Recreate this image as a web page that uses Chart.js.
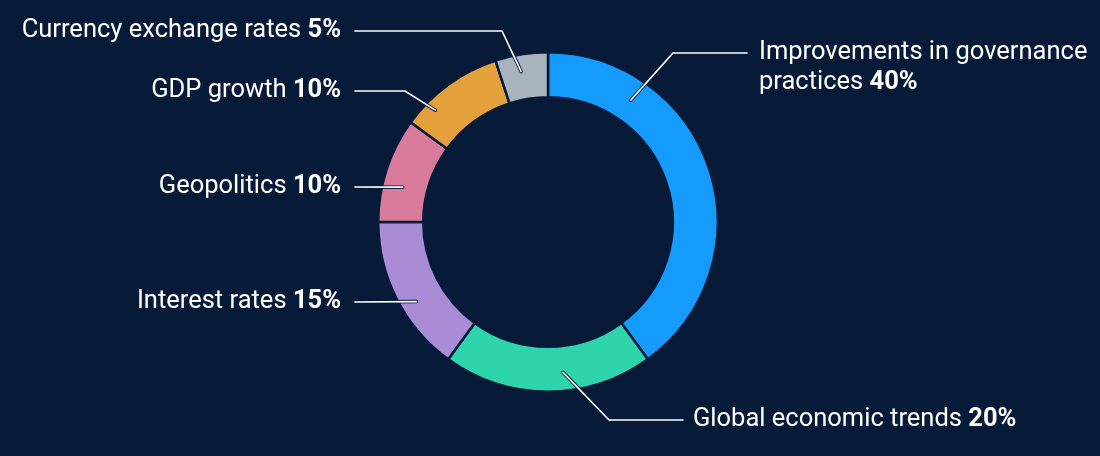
<!DOCTYPE html>
<html>
<head>
<meta charset="utf-8">
<script src="https://cdn.jsdelivr.net/npm/chart.js@4.4.1/dist/chart.umd.min.js"></script>
<style>
  html, body { margin: 0; padding: 0; background: #071a38; }
  #wrap { width: 1100px; height: 456px; position: relative; }
</style>
</head>
<body>
<div id="wrap"><canvas id="factorsChart"></canvas></div>
<script>
// Chart data
const categories = [
    "Improvements in governance practices",
    "Global economic trends",
    "Interest rates",
    "Geopolitics",
    "GDP growth",
    "Currency exchange rates"
];
const shares = [40, 20, 15, 10, 10, 5];
const sliceColors = ["#159bfc", "#2dd4ac", "#aa8bd6", "#d97b9b", "#e4a03b", "#a8b3bf"];

const BG = "#071a38";

// Callout layout per slice: where the leader starts on the ring (degrees clockwise
// from top, radius as share of outer radius), the bend, and where the text sits
// (offsets from the doughnut centre, in px).
const callouts = [
    { angle: 34.2, r: 0.868, elbowX: 125, lineY: -169, endX: 199, textX: 211, align: "left",
      lines: ["Improvements in governance", "practices"] },
    { angle: 174.3, r: 0.89, elbowX: 61, lineY: 198, endX: 135, textX: 145, align: "left",
      lines: ["Global economic trends"] },
    { angle: 238.8, r: 0.905, elbowX: null, lineY: 80, endX: -193, textX: -207, align: "right",
      lines: ["Interest rates"] },
    { angle: 283.5, r: 0.88, elbowX: null, lineY: -35, endX: -193, textX: -207, align: "right",
      lines: ["Geopolitics"] },
    { angle: 314.8, r: 0.935, elbowX: -143, lineY: -131, endX: -193, textX: -207, align: "right",
      lines: ["GDP growth"] },
    { angle: 349.9, r: 0.90, elbowX: -46, lineY: -191, endX: -193, textX: -207, align: "right",
      lines: ["Currency exchange rates"] }
];

const FONT_SIZE = 25.5;
const LINE_GAP = 30;

const calloutPlugin = {
    id: "callouts",
    afterDatasetsDraw(chart) {
        const ctx = chart.ctx;
        const arcs = chart.getDatasetMeta(0).data;
        arcs.forEach((arc, i) => {
            const c = callouts[i];
            const { x: cx, y: cy, outerRadius } = arc.getProps(["x", "y", "outerRadius"], true);
            const rad = (c.angle - 90) * Math.PI / 180;
            const dotX = cx + Math.cos(rad) * outerRadius * c.r;
            const dotY = cy + Math.sin(rad) * outerRadius * c.r;
            const lineY = cy + c.lineY;

            const pts = [[dotX, dotY]];
            if (c.elbowX !== null) pts.push([cx + c.elbowX, lineY]);
            pts.push([cx + c.endX, lineY]);

            // leader: dark halo then white line
            ctx.save();
            ctx.lineJoin = "miter";
            ctx.lineCap = "round";
            [[BG, 3.5], ["#ffffff", 1.6]].forEach(([col, w]) => {
                ctx.beginPath();
                ctx.strokeStyle = col;
                ctx.lineWidth = w;
                pts.forEach(([px, py], k) => (k ? ctx.lineTo(px, py) : ctx.moveTo(px, py)));
                ctx.stroke();
            });

            // label text, last line carries the bold percentage
            ctx.fillStyle = "#ffffff";
            ctx.textBaseline = "middle";
            const pct = " " + shares[i] + "%";
            const normalFont = `400 ${FONT_SIZE}px Roboto`;
            const boldFont = `700 ${FONT_SIZE}px Roboto`;
            c.lines.forEach((txt, k) => {
                const ty = lineY + k * LINE_GAP;
                const isLast = k === c.lines.length - 1;
                ctx.font = normalFont;
                const wNormal = ctx.measureText(txt).width;
                ctx.font = boldFont;
                const wBold = isLast ? ctx.measureText(pct).width : 0;
                let startX = cx + c.textX;
                if (c.align === "right") startX -= wNormal + wBold;
                ctx.textAlign = "left";
                ctx.font = normalFont;
                ctx.fillText(txt, startX, ty);
                if (isLast) {
                    ctx.font = boldFont;
                    ctx.fillText(pct, startX + wNormal, ty);
                }
            });
            ctx.restore();
        });
    }
};

const canvas = document.getElementById("factorsChart");
canvas.width = 1100;
canvas.height = 456;

new Chart(canvas.getContext("2d"), {
    type: "doughnut",
    data: {
        labels: categories,
        datasets: [
            {
                data: shares,
                backgroundColor: sliceColors,
                borderColor: BG,
                borderWidth: 2.5,
                hoverOffset: 0
            }
        ]
    },
    options: {
        responsive: false,
        animation: false,
        cutout: "73.5%",
        layout: {
            padding: { top: 51, bottom: 63, left: 377, right: 381 }
        },
        plugins: {
            legend: { display: false },
            tooltip: { enabled: false }
        }
    },
    plugins: [calloutPlugin]
});
</script>
</body>
</html>
